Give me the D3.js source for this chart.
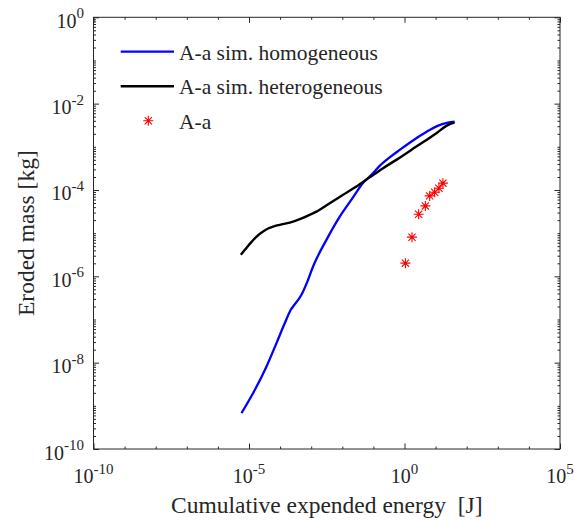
<!DOCTYPE html>
<html>
<head>
<meta charset="utf-8">
<script src="https://cdn.jsdelivr.net/npm/d3@7"></script>
<style>
  html, body { margin: 0; padding: 0; background: #fff; }
  svg { display: block; font-family: "Liberation Serif", "Times New Roman", serif; }
  svg text { font-family: "Liberation Serif", "Times New Roman", serif; fill: #262626; }
</style>
</head>
<body>
<svg id="chart" width="574" height="525"></svg>
<script>
// ---- data ----
const homoEnergy = [5.75e-6, 1.36e-5, 3.66e-5, 7.66e-5, 1.42e-4, 2.21e-4, 2.62e-4, 4.86e-4, 7.93e-4, 1.15e-3, 3.09e-3, 8.28e-3, 2.21e-2, 4.63e-2, 8.63e-2, 0.159, 0.334, 0.700, 2.40, 6.43, 17.2, 40.8];
const homoMass   = [6.81e-10, 1.98e-9, 8.17e-9, 2.84e-8, 8.26e-8, 1.68e-7, 2.00e-7, 3.73e-7, 8.30e-7, 1.69e-6, 7.00e-6, 2.42e-5, 6.75e-5, 1.46e-4, 2.24e-4, 3.61e-4, 5.69e-4, 8.47e-4, 1.58e-3, 2.46e-3, 3.39e-3, 3.83e-3];

const heteroEnergy = [5.47e-6, 7.35e-6, 1.06e-5, 1.75e-5, 2.84e-5, 4.12e-5, 5.96e-5, 9.77e-5, 2.05e-4, 4.30e-4, 7.93e-4, 1.48e-3, 3.94e-3, 1.06e-2, 2.84e-2, 7.60e-2, 0.199, 0.548, 2.40, 10.6, 22.1, 40.8];
const heteroMass   = [3.15e-6, 4.10e-6, 5.65e-6, 8.34e-6, 1.09e-5, 1.28e-5, 1.42e-5, 1.56e-5, 1.76e-5, 2.11e-5, 2.55e-5, 3.16e-5, 4.94e-5, 7.71e-5, 1.20e-4, 1.96e-4, 3.16e-4, 4.98e-4, 1.01e-3, 2.07e-3, 3.05e-3, 3.67e-3];

const expEnergy = [1.07, 1.74, 2.85, 4.68, 6.43, 9.31, 12.8, 17.2];
const expMass   = [2.02e-6, 8.07e-6, 2.75e-5, 4.28e-5, 7.30e-5, 8.89e-5, 1.10e-4, 1.44e-4];

const seriesNames = ["A-a sim. homogeneous", "A-a sim. heterogeneous", "A-a"];
const xTickExps = [-10, -5, 0, 5];
const yTickExps = [0, -2, -4, -6, -8, -10];
const xLabel = "Cumulative expended energy  [J]";
const yLabel = "Eroded mass [kg]";

// ---- layout ----
const FONT = '"Liberation Serif", "Times New Roman", serif';
const L = 93.5, R = 560, T = 17.3, B = 449;
const svg = d3.select("#chart");
const x = d3.scaleLog().domain([1e-10, 1e5]).range([L, R]);
const y = d3.scaleLog().domain([1e-10, 1]).range([B, T]);
const axisColor = "#262626";

// tick positions
const xAllDec = d3.range(-10, 6).map(e => Math.pow(10, e));
const xMajor = xTickExps.map(e => Math.pow(10, e));
const xMinor = xAllDec.filter(v => !xMajor.includes(v));
const yMajor = yTickExps.map(e => Math.pow(10, e));
const yMinor = [];
for (let e = -10; e < 0; e++) for (let m = 1; m <= 9; m++) {
  const v = m * Math.pow(10, e);
  if (!yMajor.some(t => Math.abs(t - v) / v < 1e-9)) yMinor.push(v);
}

function styleAxis(g) {
  g.select(".domain").remove();
  g.selectAll("line").attr("stroke", axisColor).attr("stroke-width", 1);
}
const majorLen = 5.5, minorLen = 2.5;
// bottom & top
svg.append("g").attr("transform", `translate(0,${B})`).call(d3.axisBottom(x).tickValues(xMajor).tickSize(-majorLen).tickFormat("")).call(styleAxis);
svg.append("g").attr("transform", `translate(0,${B})`).call(d3.axisBottom(x).tickValues(xMinor).tickSize(-minorLen).tickFormat("")).call(styleAxis);
svg.append("g").attr("transform", `translate(0,${T})`).call(d3.axisTop(x).tickValues(xMajor).tickSize(-majorLen).tickFormat("")).call(styleAxis);
svg.append("g").attr("transform", `translate(0,${T})`).call(d3.axisTop(x).tickValues(xMinor).tickSize(-minorLen).tickFormat("")).call(styleAxis);
// left & right
svg.append("g").attr("transform", `translate(${L},0)`).call(d3.axisLeft(y).tickValues(yMajor).tickSize(-majorLen).tickFormat("")).call(styleAxis);
svg.append("g").attr("transform", `translate(${L},0)`).call(d3.axisLeft(y).tickValues(yMinor).tickSize(-minorLen).tickFormat("")).call(styleAxis);
svg.append("g").attr("transform", `translate(${R},0)`).call(d3.axisRight(y).tickValues(yMajor).tickSize(-majorLen).tickFormat("")).call(styleAxis);
svg.append("g").attr("transform", `translate(${R},0)`).call(d3.axisRight(y).tickValues(yMinor).tickSize(-minorLen).tickFormat("")).call(styleAxis);

// box
svg.append("rect").attr("x", L).attr("y", T).attr("width", R - L).attr("height", B - T)
  .attr("fill", "none").attr("stroke", axisColor).attr("stroke-width", 1);

// tick labels
function powLabel(sel, e) {
  sel.attr("font-family", FONT).attr("fill", axisColor);
  sel.append("tspan").attr("font-size", 20).text("10");
  sel.append("tspan").attr("font-size", 15).attr("dy", -9.5).text(String(e));
}
xTickExps.forEach(e => {
  const t = svg.append("text").attr("x", x(Math.pow(10, e))).attr("y", 483).attr("text-anchor", "middle");
  powLabel(t, e);
});
yTickExps.forEach(e => {
  const t = svg.append("text").attr("x", 84).attr("y", y(Math.pow(10, e)) + 10.5).attr("text-anchor", "end");
  powLabel(t, e);
});

// axis titles
svg.append("text").attr("x", (L + R) / 2).attr("y", 513).attr("text-anchor", "middle")
  .attr("font-family", FONT).attr("fill", axisColor)
  .attr("font-size", 23.5).style("white-space", "pre").text(xLabel);
svg.append("text").attr("transform", `translate(34,${(T + B) / 2}) rotate(-90)`).attr("text-anchor", "middle")
  .attr("font-family", FONT).attr("fill", axisColor)
  .attr("font-size", 23.5).text(yLabel);

// lines
const line = d3.line().x(d => x(d[0])).y(d => y(d[1])).curve(d3.curveMonotoneX);
const homo = homoEnergy.map((v, i) => [v, homoMass[i]]);
const hetero = heteroEnergy.map((v, i) => [v, heteroMass[i]]);
const plot = svg.append("g");
plot.append("path").datum(homo).attr("d", line).attr("fill", "none").attr("stroke", "#0000ff").attr("stroke-width", 2.3);
plot.append("path").datum(hetero).attr("d", line).attr("fill", "none").attr("stroke", "#000000").attr("stroke-width", 2.4);

// asterisk marker
const asterisk = {
  draw(ctx, size) {
    const r = Math.sqrt(size) / 2;
    const d = r * 0.72;
    ctx.moveTo(-r, 0); ctx.lineTo(r, 0);
    ctx.moveTo(0, -r); ctx.lineTo(0, r);
    ctx.moveTo(-d, -d); ctx.lineTo(d, d);
    ctx.moveTo(-d, d); ctx.lineTo(d, -d);
  }
};
const star = d3.symbol().type(asterisk).size(100);
plot.selectAll(".star").data(expEnergy.map((v, i) => [v, expMass[i]])).enter().append("path")
  .attr("transform", d => `translate(${x(d[0])},${y(d[1])})`)
  .attr("d", star).attr("fill", "none").attr("stroke", "#ff0000").attr("stroke-width", 1.1);

// legend
const legRows = [51.7, 86.2, 120.7];
const lg = svg.append("g");
lg.append("line").attr("x1", 120.7).attr("x2", 174).attr("y1", legRows[0]).attr("y2", legRows[0]).attr("stroke", "#0000ff").attr("stroke-width", 2.3);
lg.append("line").attr("x1", 120.7).attr("x2", 174).attr("y1", legRows[1]).attr("y2", legRows[1]).attr("stroke", "#000").attr("stroke-width", 2.4);
lg.append("path").attr("transform", `translate(148.3,${legRows[2]})`).attr("d", star).attr("fill", "none").attr("stroke", "#ff0000").attr("stroke-width", 1.1);
seriesNames.forEach((n, i) => {
  lg.append("text").attr("x", 179).attr("y", legRows[i] + 8)
    .attr("font-family", FONT).attr("fill", axisColor)
    .attr("font-size", 21.5).text(n);
});
</script>
</body>
</html>
